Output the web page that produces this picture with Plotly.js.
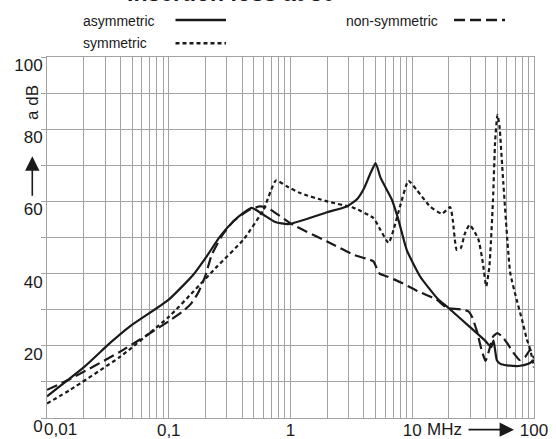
<!DOCTYPE html>
<html>
<head>
<meta charset="utf-8">
<script src="https://cdn.plot.ly/plotly-3.0.1.min.js"></script>
<style>html,body{margin:0;padding:0;background:#fff;}#chart{width:556px;height:439px;}</style>
</head>
<body>
<div id="chart"></div>
<script>
// ---- data ----
const freqAsym = [0.01, 0.02, 0.033, 0.048, 0.1, 0.159, 0.205, 0.264, 0.34, 0.41, 0.48, 0.6, 0.75, 0.96, 2.0, 2.9, 3.5, 4.0, 4.5, 5.0, 5.5, 6.8, 7.7, 9.0, 11.6, 16.4, 19.2, 30, 40, 44.5, 46.5, 49.5, 53, 60, 75, 90, 100];
const dbAsym   = [6, 14, 20.8, 25.4, 32.8, 39.7, 44.8, 50.3, 54.5, 56.8, 58.2, 56.3, 54.3, 53.7, 57, 58.6, 60.5, 63.5, 67.5, 70.6, 66.5, 60.5, 54.9, 46.6, 39.2, 32.8, 30.9, 25.1, 21.3, 19.6, 21.5, 16, 15, 14.6, 14.4, 15, 16];

const freqSym = [0.01, 0.0155, 0.04, 0.1, 0.159, 0.25, 0.41, 0.6, 0.76, 0.93, 1.2, 2.0, 3.3, 4.8, 5.5, 6.4, 7.0, 8.0, 9.3, 11, 14, 17.5, 20.5, 21.5, 23.2, 25, 27, 29.5, 32, 35, 38, 40.5, 43, 46, 48, 50.1, 52, 56, 63.8, 72, 80, 87.5, 93, 100];
const dbSym   = [4, 7.8, 17, 28, 35, 42, 49.4, 57.7, 65.8, 64.2, 62.3, 60, 58.2, 55.4, 52, 48.5, 52, 59, 65.7, 63, 58.6, 56.6, 58.4, 55, 46.6, 47, 51, 53.5, 52, 49.4, 43, 36.5, 42, 60, 77, 84, 81, 65, 40.2, 32.8, 27, 21.7, 19, 14];

const freqNonSym = [0.01, 0.0155, 0.04, 0.1, 0.13, 0.15, 0.174, 0.199, 0.225, 0.27, 0.34, 0.45, 0.56, 0.65, 1.05, 2.0, 3.3, 4.8, 5.1, 5.4, 6.2, 8, 11, 15.8, 19.3, 26.4, 29, 31, 34, 37, 40, 43, 46, 50, 55, 60, 68, 76, 85, 93, 100];
const dbNonSym   = [7.8, 10.8, 18.4, 26.8, 29.5, 31.4, 34.6, 39.2, 45.1, 50.2, 54.5, 57.5, 58.6, 58.2, 53.5, 48.9, 45.2, 43.4, 41.5, 40, 39.2, 37.6, 35.2, 32.8, 30.5, 30, 29.5, 28, 24, 19, 15.8, 19, 22.5, 23.5, 22.5, 20.8, 18, 16.1, 17, 18.9, 16.5];

const seriesNames = ['asymmetric', 'symmetric', 'non-symmetric'];
const xTickVals = [0.01, 0.1, 1, 10, 100];
const xTickText = ['0,01', '0,1', '1', '10', '100'];
const yTickVals = [0, 20, 40, 60, 80, 100];
const yTickText = ['0', '20', '40', '60', '80', '100'];
const titleText = 'Insertion loss at 50';
const yLabelText = 'a dB';
const xUnitText = 'MHz';

// ---- layout helpers ----
const W = 556, H = 439;
const M = {l: 47, r: 22, t: 56.5, b: 20.7};
const PW = W - M.l - M.r, PH = H - M.t - M.b;
const px = v => (v - M.l) / PW;          // pixel x -> paper x
const py = v => (H - M.b - v) / PH;      // pixel y -> paper y

const FONT = 'Liberation Sans, Arial, Helvetica, sans-serif';
const INK = '#1a1a1a';
const GRID = '#a3a3a3';
const styles = [
  {width: 2.2, dash: 'solid'},
  {width: 2.2, dash: '4px,3px'},
  {width: 2.2, dash: '11px,5px'}
];

// minor log grid (2..9 each decade)
const minorVals = [];
for (let d = -2; d < 2; d++) for (let k = 2; k <= 9; k++) minorVals.push(k * Math.pow(10, d));

const xs = [freqAsym, freqSym, freqNonSym];
const ys = [dbAsym, dbSym, dbNonSym];
const traces = xs.map((x, i) => ({
  x: x, y: ys[i], type: 'scatter', mode: 'lines', name: seriesNames[i],
  line: {color: INK, width: styles[i].width, dash: styles[i].dash, shape: 'spline', smoothing: 0.5},
  showlegend: false, hoverinfo: 'skip'
}));

// legend (text followed by line sample, as in the reference)
const legendPos = [
  {tx: 81, ty: 20, lx0: 175.5, lx1: 226, ly: 19.5},
  {tx: 81, ty: 42, lx0: 175.5, lx1: 226, ly: 42.6},
  {tx: 344, ty: 20, lx0: 454, lx1: 505, ly: 19.5}
];
const annotations = [];
const shapes = [];
seriesNames.forEach((n, i) => {
  const p = legendPos[i];
  annotations.push({xref: 'paper', yref: 'paper', x: px(p.tx), y: py(p.ty), xanchor: 'left', yanchor: 'middle',
    text: n, showarrow: false, font: {family: FONT, size: 14, color: INK}});
  shapes.push({type: 'line', xref: 'paper', yref: 'paper', x0: px(p.lx0), x1: px(p.lx1), y0: py(p.ly), y1: py(p.ly),
    line: {color: INK, width: styles[i].width + 0.3, dash: styles[i].dash}});
});

// chart title (only its lower part falls inside the picture, as in the reference)
annotations.push({xref: 'paper', yref: 'paper', x: px(230.5), y: py(7.2), xanchor: 'center', yanchor: 'bottom',
  text: '<b>' + titleText + '</b>', showarrow: false, font: {family: FONT, size: 23, color: INK}});

// first x tick label sits just right of the axis corner in the reference
annotations.push({xref: 'paper', yref: 'paper', x: 0, y: py(430), xshift: -5, xanchor: 'left', yanchor: 'middle',
  text: xTickText[0], showarrow: false, font: {family: FONT, size: 17, color: INK}});
const xTickShown = xTickText.map((t, i) => i === 0 ? '' : t);

// y-axis label and arrow
annotations.push({xref: 'paper', yref: 'paper', x: px(32.5), y: py(102), textangle: -90,
  text: yLabelText, showarrow: false, xanchor: 'center', yanchor: 'middle',
  font: {family: FONT, size: 17, color: INK}});
annotations.push({xref: 'paper', yref: 'paper', x: px(32.3), y: py(156), ax: 0, ay: 41, text: '',
  showarrow: true, arrowhead: 2, arrowsize: 1.8, arrowwidth: 1.6, arrowcolor: INK});
// x-axis unit and arrow
annotations.push({xref: 'x', yref: 'paper', x: Math.log10(xTickVals[3]), y: py(430), xshift: 13, xanchor: 'left', yanchor: 'middle',
  text: xUnitText, showarrow: false, font: {family: FONT, size: 17, color: INK}});
annotations.push({xref: 'paper', yref: 'paper', x: px(514), y: py(430), ax: -47, ay: 0, text: '',
  showarrow: true, arrowhead: 2, arrowsize: 1.8, arrowwidth: 1.6, arrowcolor: INK});

const layout = {
  width: W, height: H,
  margin: M,
  paper_bgcolor: '#fff', plot_bgcolor: '#fff',
  font: {family: FONT, size: 17, color: INK},
  xaxis: {type: 'log', range: [-2, 2], tickmode: 'array', tickvals: xTickVals, ticktext: xTickShown, ticks: '',
    showgrid: true, gridcolor: GRID, gridwidth: 1, showline: true, linecolor: GRID, linewidth: 1, mirror: true,
    zeroline: false, tickfont: {family: FONT, size: 17, color: INK}, ticklabelstandoff: -3,
    minor: {tickmode: 'array', tickvals: minorVals, showgrid: true, gridcolor: GRID, gridwidth: 1, ticks: ''}},
  yaxis: {range: [0, 100], tickmode: 'array', tickvals: yTickVals, ticktext: yTickText, ticks: 'outside', ticklen: 5, tickcolor: GRID,
    showgrid: true, gridcolor: GRID, gridwidth: 1, showline: true, linecolor: GRID, linewidth: 1, mirror: true,
    zeroline: false, tickfont: {family: FONT, size: 17, color: INK}, ticklabelshift: 8, ticklabelstandoff: -5,
    minor: {dtick: 10, showgrid: true, gridcolor: GRID, gridwidth: 1, ticks: 'outside', ticklen: 5, tickcolor: GRID}},
  annotations: annotations,
  shapes: shapes,
  showlegend: false
};

Plotly.newPlot('chart', traces, layout, {staticPlot: true, displayModeBar: false});
</script>
</body>
</html>
